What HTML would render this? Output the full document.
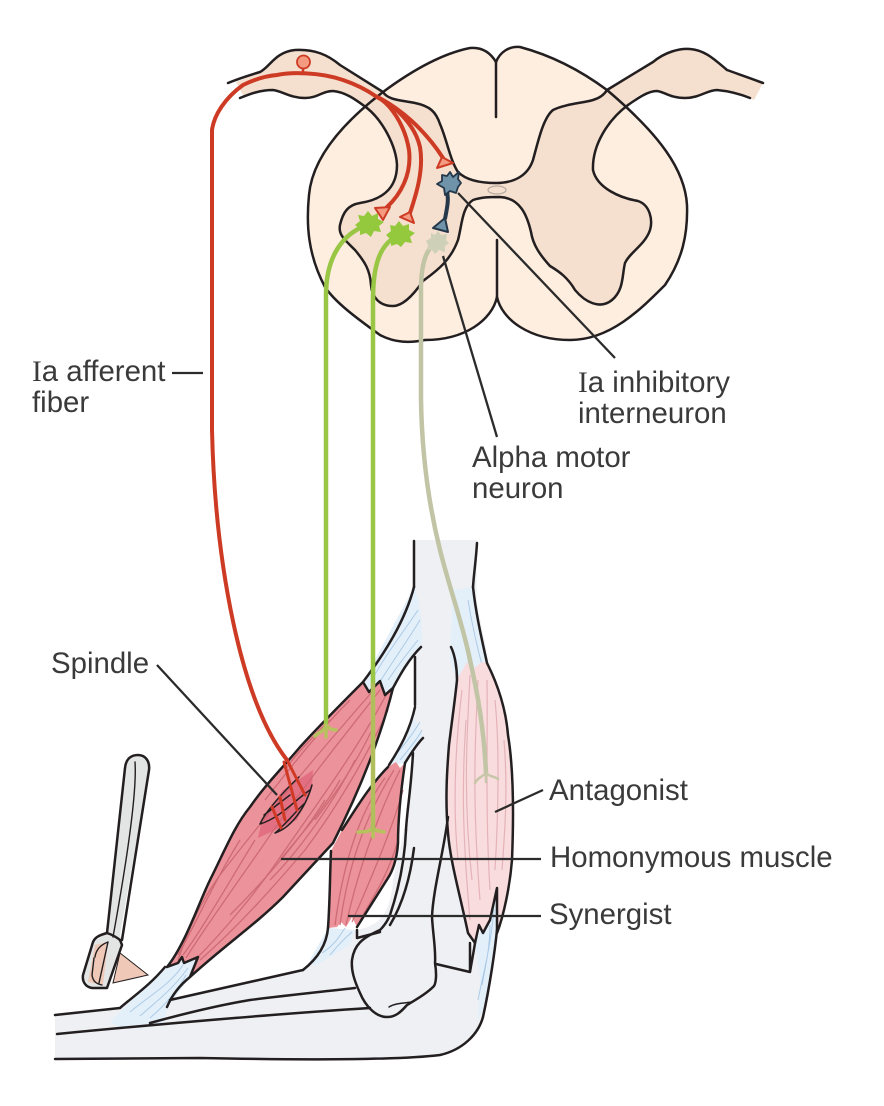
<!DOCTYPE html>
<html><head><meta charset="utf-8"><style>
html,body{margin:0;padding:0;background:#fff;width:884px;height:1106px;overflow:hidden}
svg{display:block}
text{font-family:"Liberation Sans",sans-serif;font-size:29.400px;fill:#3a3a3a}
.s{font-family:"Liberation Serif",serif}
.o{stroke:#231f20;stroke-width:2.500;fill:none;stroke-linecap:round;stroke-linejoin:round}
.l{stroke:#2b2b2b;stroke-width:2.300;fill:none}
.f{stroke:#c9656f;stroke-width:1.300;fill:none;opacity:.85}
.p{stroke:#e3b3b8;stroke-width:1.200;fill:none}
.b{stroke:#a9c9e6;stroke-width:.9;fill:none}
</style></head><body>
<svg width="884" height="1106" viewBox="0 0 884 1106" xmlns="http://www.w3.org/2000/svg">
<!-- cord fill -->
<path d="M496 62C490 52 481 47 470 48C440 54 410 72 383 92C340 125 312 160 309 195C306 225 308 255 325 287C335 302 355 317 380 335C395 343 410 343 425 340C465 340 492 320 497 297C502 320 530 340 570 340C610 340 640 310 665 285C682 260 688 235 687 205C685 170 660 135 607 90C580 70 550 55 520 47C509 46 500 52 496 62Z" fill="#fdeee0"/>
<!-- gray matter -->
<path d="M383 92C388 100 400 100 415 103C430 106 436 112 440 124C447 140 450 160 458 172C466 180 480 183 496 183C515 183 528 175 533 160C538 142 543 118 553 110C565 104 583 103 593 100C600 98 604 95 607 90L628 105C608 120 592 145 593 170C597 188 620 198 638 201C650 205 653 220 650 230C645 245 630 252 625 263C622 275 624 290 612 300C600 310 585 302 575 290C568 278 560 272 550 266C540 255 533 245 531 232C527 215 520 198 500 197C490 197 482 197 473 200C462 207 462 225 458 240C450 262 435 272 423 281C410 300 400 306 393 306C380 306 372 298 371 285C370 270 365 262 355 250C345 240 338 235 340 225C343 212 348 205 360 203C380 200 397 190 397 165C396 145 382 120 367 108Z" fill="#f5dfce"/>
<!-- root fills -->
<path d="M236 82L260 72C270 67 275 52 295 50C315 49 328 55 340 65L383 92L367 108C350 95 340 90 333 91C320 95 315 99 300 98C285 97 280 90 270 90C258 90 250 95 244 97Z" fill="#f5dfce"/>
<path d="M607 90L653 62C665 52 680 48 690 49C705 50 715 60 727 70L763 83L754 100C735 92 725 90 717 90C705 92 695 98 680 98C665 97 660 90 650 92C640 93 635 98 628 105Z" fill="#f5dfce"/>
<!-- cord outlines -->
<path class="o" d="M367 108C382 120 396 145 397 165C397 190 380 200 360 203C348 205 343 212 340 225C338 235 345 240 355 250C365 262 370 270 371 285C372 298 380 306 393 306C400 306 410 300 423 281C435 272 450 262 458 240C462 225 462 207 473 200C482 197 490 197 500 197C520 198 527 215 531 232C533 245 540 255 550 266C560 272 568 278 575 290C585 302 600 310 612 300C624 290 622 275 625 263C630 252 645 245 650 230C653 220 650 205 638 201C620 198 597 188 593 170C592 145 608 120 628 105"/>
<path class="o" d="M383 92C388 100 400 100 415 103C430 106 436 112 440 124C447 140 450 160 458 172C466 180 480 183 496 183C515 183 528 175 533 160C538 142 543 118 553 110C565 104 583 103 593 100C600 98 604 95 607 90"/>
<path class="o" d="M496 117V62C490 52 481 47 470 48C440 54 410 72 383 92C340 125 312 160 309 195C306 225 308 255 325 287C335 302 355 317 380 335C395 343 410 343 425 340C465 340 492 320 497 297V240"/>
<path class="o" d="M497 297C502 320 530 340 570 340C610 340 640 310 665 285C682 260 688 235 687 205C685 170 660 135 607 90C580 70 550 55 520 47C509 46 500 52 496 62"/>
<path class="o" d="M228 83C240 78 250 75 260 72C270 67 275 52 295 50C315 49 328 55 340 65L383 92"/>
<path class="o" d="M240 98C250 94 260 90 273 90C282 91 290 98 305 98C318 98 322 91 333 91C345 92 355 99 367 108"/>
<path class="o" d="M607 90L653 62C665 52 680 48 690 49C705 50 715 60 727 70C738 74 750 78 763 83"/>
<path class="o" d="M628 105C638 98 648 91 657 91C665 92 670 98 685 98C700 98 707 90 717 90C728 91 740 94 750 98"/>
<ellipse cx="497" cy="190" rx="9" ry="4" fill="#f5dfce" stroke="#b5aaa2" stroke-width="1.200"/>

<!-- Bones -->
<path d="M414 540H477L475 587C478 615 485 640 489 665L470 943V972L436 964C410 975 400 990 390 1000L370 1010C300 1018 200 1024 150 1030L55 1040V1015L120 1008L165 967L190 977L170 1000L303 970C315 965 325 945 330 930L357 930C380 925 390 915 393 880C405 830 412 790 413 753C415 720 416 690 415 657L405 645L390 660L395 640L414 587Z" fill="#eef0f3"/>
<path d="M414 540H477L476 660L465 680L450 830L435 965L470 972L472 945L497 930L483 1017C478 1035 462 1050 440 1055C400 1060 300 1060 200 1058C150 1058 100 1059 55 1059V1036C150 1028 260 1015 370 1006L355 988L352 960C355 945 365 935 380 930C390 920 398 880 406 830L413 753L415 700L414 540Z" fill="#eef0f3"/>
<path d="M170 1000L303 970L327 940L360 935L355 988L250 1002L150 1023L120 1015Z" fill="#eef0f3"/>
<!-- Tendons blue -->
<path d="M110 1022L165 967L178 963L182 957L184 963L198 957L190 977L168 1007L163 1024C145 1030 120 1030 110 1022Z" fill="#e3eff9"/>
<path d="M363 682L414 587C420 600 423 630 422 645L393 688L385 695L380 682L372 692Z" fill="#e3eff9"/>
<path d="M389 765L414 718L423 735L405 763Z" fill="#e3eff9"/>
<path d="M328 928L355 930L350 945L315 966L310 960Z" fill="#e3eff9"/>
<path d="M453 590L473 587C478 615 482 640 487 663L482 662L472 670L467 662L457 680L450 660Z" fill="#e3eff9"/>
<path d="M475 943L497 895L497 930L488 1000L478 1020L480 975Z" fill="#e3eff9"/>
<g class="b">
<path d="M130 1012C150 995 170 985 183 965M140 1016C158 1000 172 990 188 968M150 1018C165 1005 178 990 186 975"/>
<path d="M372 680C385 655 405 630 418 610M378 685C390 665 408 640 420 620M388 680C398 665 410 650 418 640"/>
<path d="M395 755C405 745 415 730 420 722M400 760C410 748 418 738 422 730"/>
<path d="M322 953C335 945 340 935 345 928M330 955C338 945 345 938 352 932"/>
<path d="M462 625C465 645 468 660 470 668M468 600C472 625 478 650 482 665"/>
<path d="M478 1000C484 970 490 950 494 910M482 985C486 965 490 945 490 925"/>
</g>
<!-- Muscle homonymous -->
<path d="M363 682L369 692L380 681L385 695L393 688C385 720 370 770 333 843L283 897L190 977L198 957L184 963L182 957L178 963L167 967C185 945 200 900 210 880C225 850 235 825 250 807C265 785 285 765 300 747C320 725 345 700 363 682Z" fill="#ec929a"/>
<path d="M283 790L313 770L312 787L297 820L258 838L262 820Z" fill="#e26f82"/>
<g class="f">
<path d="M372 692C330 740 270 810 220 875C195 910 185 940 178 960"/>
<path d="M380 690C345 735 300 790 260 850C225 900 200 935 186 958"/>
<path d="M386 695C360 745 320 800 285 850C255 895 220 935 195 960"/>
<path d="M350 700C315 735 285 775 265 800M330 720C310 740 295 755 285 770"/>
<path d="M388 710C365 760 335 810 305 850C275 885 240 925 200 960"/>
<path d="M325 800C300 840 265 880 230 915M355 760C335 800 300 850 270 880"/>
<path d="M240 840C215 880 195 925 178 955M255 840C230 880 205 925 183 955"/>
<path d="M340 780C320 815 300 835 280 860M372 730C350 775 330 800 315 820"/>
</g>
<!-- Synergist -->
<path d="M388 767L396 762L400 768L405 763C401 790 398 820 398 843C397 860 392 872 388 878L357 927L352 917L346 927L341 922L337 927L328 928C330 900 330 870 331 851L342 830C355 810 370 785 388 767Z" fill="#ec929a"/>
<g class="f">
<path d="M394 770C375 800 350 850 340 925M400 770C385 800 360 860 346 925M403 790C395 820 375 870 352 922M385 778C365 805 345 850 335 925M398 840C390 870 375 895 360 920"/>
</g>
<!-- Antagonist -->
<path d="M457 680L467 662L472 670L482 662L487 663C498 685 506 710 508 735C513 765 514 810 512 860C510 885 504 915 497 933L497 888L490 920L483 933L479 925L475 943L468 933C460 895 450 860 448 833C445 800 447 770 449 745C452 720 455 700 457 680Z" fill="#f9dcdd"/>
<g class="p">
<path d="M462 690C456 740 452 800 458 860M470 675C468 720 462 790 472 880M478 680C475 740 472 800 480 900M487 680C488 740 485 810 490 890M495 700C500 750 498 820 495 870M504 740C508 790 505 830 502 870M466 720C462 780 462 830 470 920"/>
</g>
<!-- Spindle -->
<path class="o" style="stroke-width:1.500" d="M260 824C265 812 285 790 299 777M275 833C290 828 305 810 312 785M260 824C280 818 295 800 310 790M275 833C285 825 295 812 305 803M264 815L290 795"/>
<!-- Outlines -->
<path class="o" d="M363 682C345 700 320 725 300 747C285 765 265 785 250 807C235 825 225 850 210 880C200 900 185 945 167 967L178 963L182 957L184 963L198 957L190 977C225 945 255 925 283 897L333 843C370 770 385 720 393 688L385 695L380 681L369 692L363 682"/>
<path class="o" d="M342 830C355 810 370 785 388 767M405 763C401 790 398 820 398 843C397 860 392 872 388 878L357 927M331 851C330 870 330 900 328 928"/>
<path class="o" d="M414 541V587M477 543C476 560 474 572 473 587"/>
<path class="o" d="M414 587C408 610 395 640 363 682M393 688C400 675 408 660 421 647M415 657V705M415 707C410 730 400 748 389 765M405 763C410 755 416 745 423 738M413 753C411 790 407 810 406 830"/>
<path class="o" d="M473 587C476 615 482 640 487 663C498 685 506 710 508 735C513 765 514 810 512 860C510 885 504 915 497 933L497 888L490 920L483 933L479 925L475 943L468 933C460 895 450 860 448 833C445 800 447 770 449 745C452 720 455 700 457 680C457 668 455 655 451 647"/>
<path class="o" d="M448 817C444 850 433 890 432 917C433 935 436 950 435 963C437 975 436 985 433 987C425 995 415 1000 407 1005C400 1013 395 1017 387 1017C375 1017 365 1005 360 993C354 980 351 970 352 960C354 945 362 938 380 930C385 925 388 920 390 915C400 885 405 855 406 830"/>
<path class="o" d="M414 848C410 880 402 905 390 925M357 930V938L380 932"/>
<path class="o" style="stroke-width:1.500" d="M389 1007C395 1003 405 1003 412 1002"/>
<path class="o" d="M328 928C327 940 322 955 303 970"/>
<path class="o" d="M436 964L470 972V943M470 972C472 960 474 950 475 943M497 930C495 950 490 985 483 1017C478 1035 462 1050 440 1055C400 1060 300 1060 200 1058C150 1058 100 1059 55 1059"/>
<path class="o" d="M57 1034C150 1025 260 1015 370 1008M150 1023C190 1012 220 1005 250 1000C290 995 320 992 355 988"/>
<path class="o" d="M55 1015L120 1008C135 995 150 985 165 967M190 977C180 985 172 995 167 1007M170 1000L303 970"/>
<!-- Hammer -->
<path d="M120 953L148 975L113 983Z" fill="#f0c8b8" stroke="#231f20" stroke-width="1"/>
<path d="M125 768C126 758 132 755 138 755C146 755 150 762 149 770L120 935L123 944L108 988L90 987L83 978L93 942L107 933Z" fill="#e3e5e5"/>
<path d="M95 945L108 942L103 985L88 982Z" fill="#f0c8b8"/>
<path class="o" d="M125 768C126 758 132 755 138 755C146 755 150 762 149 770L122 940M125 768L107 933C100 935 95 937 93 942L83 975C82 982 86 987 92 988L107 988L122 945L120 940C115 936 110 934 107 933"/>
<path class="o" style="stroke-width:1.400" d="M135 762C137 790 127 860 113 937M108 942L99 983M95 957C96 950 100 945 108 942M94 958L92 975C93 982 97 984 102 985"/>
<!-- Green / gray fibers -->
<g fill="none" stroke-linecap="round">
<path d="M360 228C340 238 326 260 326 295V725" stroke="#99c644" stroke-width="4.500"/>
<path d="M391 240C378 250 373 270 373 300V685" stroke="#99c644" stroke-width="4.500"/>
<path d="M315 736C320 732 325 730 326 725M326 725C330 730 335 730 336 730M326 725V737" stroke="#b5c25e" stroke-width="3.500"/>
<path d="M358 832C365 832 370 832 373 827C376 832 380 831 384 832M373 827V837" stroke="#b5c25e" stroke-width="3.500"/>
<path d="M373 685V830" stroke="#b0bf5c" stroke-width="4.500"/>
<path d="M431 247C424 255 421 270 421 290V400C422 460 430 510 440 550C450 590 463 625 470 660C478 695 484 730 486 773" stroke="#c2c4a6" stroke-width="4.500"/>
<path d="M475 783C477 778 482 777 486 773C490 777 494 776 498 779M486 773V782" stroke="#c8c6a9" stroke-width="2.500"/>
</g>
<!-- Leaders -->
<path class="l" d="M458 193L615 358M443 256L497 437M157 665L277 795M172 373H203M495 812L543 790M281 859H541M348 916H541"/>
<!-- Stars -->
<polygon points="368,211 372,216 378,213 378,219 384,222 379,226 381,232 374,231 371,237 366,233 360,235 360,229 355,225 360,221 358,215 364,216" fill="#94c93d"/>
<polygon points="399,221 403,226 409,224 409,230 415,233 410,237 412,243 405,242 401,247 397,244 391,246 391,240 386,235 391,231 390,225 395,226" fill="#94c93d"/>
<polygon points="438,231 441,235 447,234 446,240 449,243 445,246 445,252 439,250 435,254 432,250 427,250 428,245 426,241 431,238 431,233 435,235" fill="#cfd0b8"/>
<!-- Blue neuron -->
<path d="M447 192C449 200 447 208 445 219" fill="none" stroke="#26394b" stroke-width="4"/>
<polygon points="450,172 453,177 459,172 458,179 461,183 458,187 456,193 450,191 445,195 444,188 437,184 442,181 442,175 447,176" fill="#6f93a8" stroke="#24384a" stroke-width="1.800" stroke-linejoin="round"/>
<polygon points="433,228 445,218 448,232" fill="#6f93a8" stroke="#24384a" stroke-width="2" stroke-linejoin="round"/>
<!-- Red fiber -->
<g fill="none" stroke-linecap="round" stroke="#cd3b24" stroke-width="4">
<path d="M212 430V130C214 115 225 98 243 85C255 79 265 76 277 75C290 72 320 72 343 80C355 84 367 90 377 97"/>
<path d="M212 430C215 560 240 700 287 760"/>
<path d="M377 97C390 103 405 125 409 150C412 175 400 195 387 207"/>
<path d="M377 97C395 105 415 125 420 147C424 170 416 195 410 213"/>
<path d="M377 97C400 108 425 130 443 158"/>
<path d="M303 73V66" stroke-width="2.500"/>
<g stroke="#d03a25" stroke-width="3">
<path d="M287 760L305 795M284 762L297 810M280 797L285 820M272 807L281 828"/>
</g>
</g>
<circle cx="303.500" cy="62" r="6.500" fill="#f39a80" stroke="#cd3b24" stroke-width="1.800"/>
<polygon points="375,208 390,207 383,220" fill="#f39a80" stroke="#cd3b24" stroke-width="2" stroke-linejoin="round"/>
<polygon points="400,217 410,212 414,223" fill="#f39a80" stroke="#cd3b24" stroke-width="2" stroke-linejoin="round"/>
<polygon points="437,168 442,157 453,163" fill="#f39a80" stroke="#cd3b24" stroke-width="2" stroke-linejoin="round"/>
<!-- Labels -->
<text x="32" y="381"><tspan class="s">I</tspan>a afferent</text>
<text x="32" y="412">fiber</text>
<text x="578" y="392"><tspan class="s">I</tspan>a inhibitory</text>
<text x="578" y="423">interneuron</text>
<text x="472" y="467">Alpha motor</text>
<text x="472" y="498">neuron</text>
<text x="51" y="673">Spindle</text>
<text x="549" y="800">Antagonist</text>
<text x="550" y="867">Homonymous muscle</text>
<text x="549" y="924">Synergist</text>
</svg>
</body></html>
